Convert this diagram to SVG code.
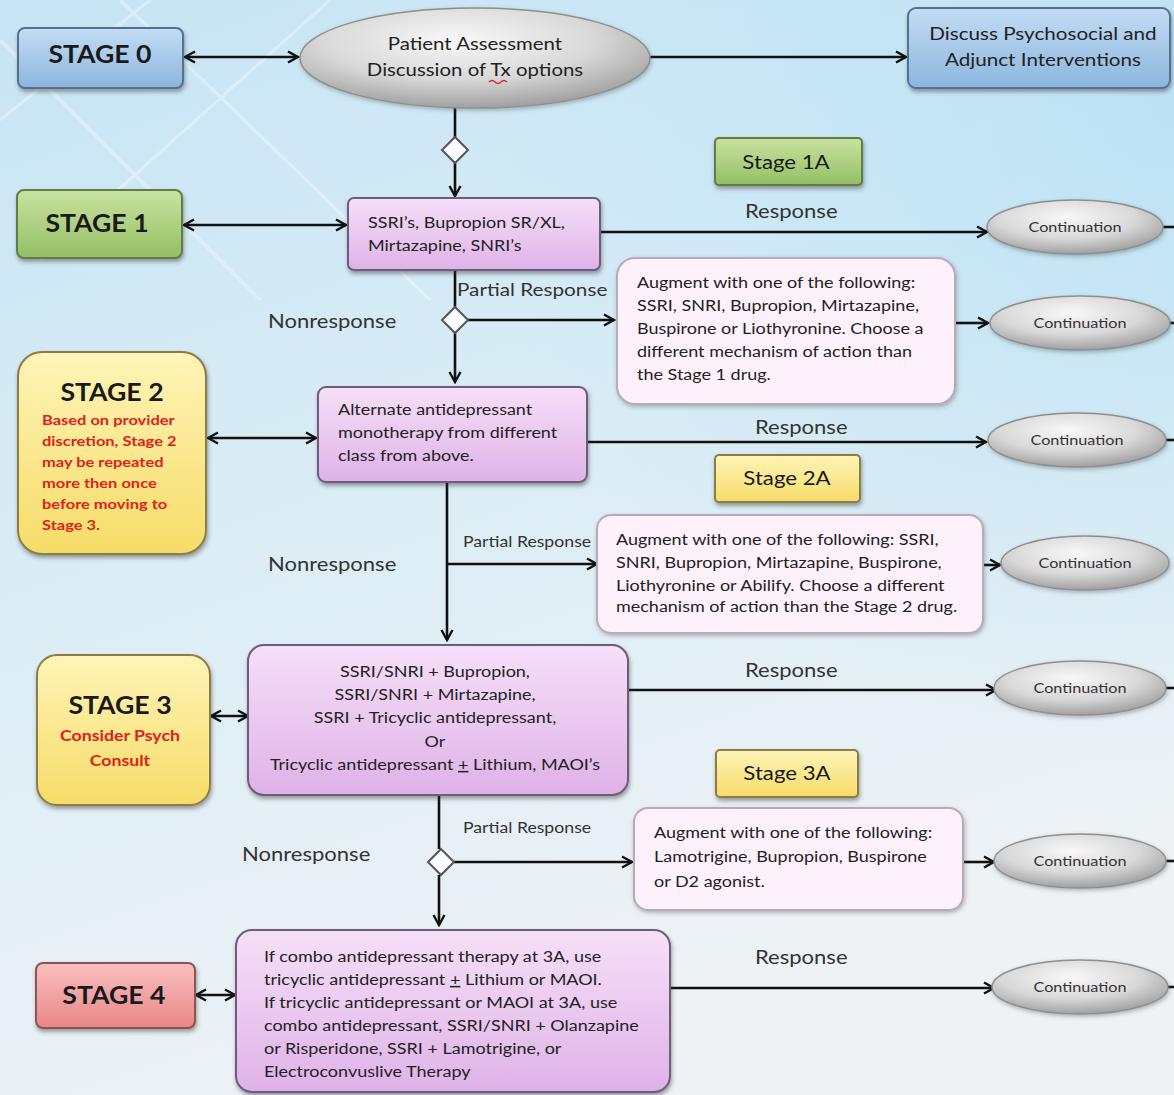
<svg xmlns="http://www.w3.org/2000/svg" width="1174" height="1095" viewBox="0 0 1174 1095">
<defs>
  <linearGradient id="bg" x1="0" y1="0" x2="0.35" y2="1">
    <stop offset="0" stop-color="#c6e4f4"/>
    <stop offset="0.5" stop-color="#dbedf6"/>
    <stop offset="1" stop-color="#eef2f5"/>
  </linearGradient>
  <radialGradient id="bgR" cx="1" cy="0.1" r="0.6">
    <stop offset="0" stop-color="#b6e0f4" stop-opacity="0.8"/>
    <stop offset="1" stop-color="#b6e0f4" stop-opacity="0"/>
  </radialGradient>
  <linearGradient id="gPurple" x1="0" y1="0" x2="0" y2="1">
    <stop offset="0" stop-color="#f6e0f8"/>
    <stop offset="1" stop-color="#dfb2e8"/>
  </linearGradient>
  <linearGradient id="gBlue" x1="0" y1="0" x2="0" y2="1">
    <stop offset="0" stop-color="#c3dcf3"/>
    <stop offset="1" stop-color="#8cb6df"/>
  </linearGradient>
  <linearGradient id="gGreen" x1="0" y1="0" x2="0" y2="1">
    <stop offset="0" stop-color="#c9e3a0"/>
    <stop offset="1" stop-color="#93bf64"/>
  </linearGradient>
  <linearGradient id="gYellow" x1="0" y1="0" x2="0" y2="1">
    <stop offset="0" stop-color="#fff4b8"/>
    <stop offset="1" stop-color="#f6dc68"/>
  </linearGradient>
  <linearGradient id="gRed" x1="0" y1="0" x2="0" y2="1">
    <stop offset="0" stop-color="#f9c0c0"/>
    <stop offset="1" stop-color="#ea8585"/>
  </linearGradient>
  <radialGradient id="gGray" cx="0.45" cy="0.32" r="0.72">
    <stop offset="0" stop-color="#f8f8f8"/>
    <stop offset="0.55" stop-color="#d8d8d8"/>
    <stop offset="1" stop-color="#999"/>
  </radialGradient>
  <filter id="sh" x="-10%" y="-10%" width="130%" height="140%">
    <feDropShadow dx="1" dy="3" stdDeviation="2" flood-color="#333" flood-opacity="0.45"/>
  </filter>
  <filter id="shl" x="-10%" y="-10%" width="130%" height="140%">
    <feDropShadow dx="1" dy="2" stdDeviation="2" flood-color="#555" flood-opacity="0.4"/>
  </filter>
  <marker id="ah" viewBox="0 0 14 14" refX="12" refY="7" markerWidth="14" markerHeight="14" markerUnits="userSpaceOnUse" orient="auto-start-reverse">
    <path d="M2,1.5 L12,7 L2,12.5" fill="none" stroke="#111" stroke-width="2.4" stroke-linejoin="miter"/>
  </marker>
  <style>
    text { font-family: Lato, "Liberation Sans", sans-serif; fill: #222; transform-box: fill-box; }
    .L { transform-origin: left center; }
    .C { transform-origin: center; }
    .stg { font-size: 24px; font-weight: bold; text-anchor: middle; fill: #1a1a1a; transform: scaleX(1.11); }
    .sub { font-size: 19px; text-anchor: middle; fill: #1a1a1a; transform: scaleX(1.17); }
    .lbl { font-size: 19px; fill: #333; transform: scaleX(1.16); }
    .plbl { font-size: 14.5px; fill: #333; transform: scaleX(1.22); }
    .cont { font-size: 13.5px; text-anchor: middle; fill: #333; transform: scaleX(1.2); }
    .box { font-size: 15px; fill: #222; transform: scaleX(1.2); }
    .ell2 { font-size: 17px; text-anchor: middle; transform: scaleX(1.2); }
    .disc { font-size: 17.5px; text-anchor: middle; transform: scaleX(1.18); }
    .red { font-size: 13.5px; font-weight: bold; fill: #e0201a; transform: scaleX(1.22); }
    .purple { fill: url(#gPurple); stroke: #6e5c7a; stroke-width: 2; filter: url(#sh); }
    .blue { fill: url(#gBlue); stroke: #56718f; stroke-width: 2; filter: url(#sh); }
    .green { fill: url(#gGreen); stroke: #5f7d44; stroke-width: 2; filter: url(#sh); }
    .yellow { fill: url(#gYellow); stroke: #8c7c45; stroke-width: 2; filter: url(#sh); }
    .redbox { fill: url(#gRed); stroke: #8a5555; stroke-width: 2; filter: url(#sh); }
    .aug { fill: #fdf2fc; stroke: #b9aab9; stroke-width: 2; filter: url(#shl); }
    .ell { fill: url(#gGray); stroke: #8f8f8f; stroke-width: 1.5; filter: url(#shl); }
    .ln { fill: none; stroke: #111; stroke-width: 2.6; }
    .ar { fill: none; stroke: #111; stroke-width: 2.6; marker-end: url(#ah); }
    .dar { fill: none; stroke: #111; stroke-width: 2.6; marker-end: url(#ah); marker-start: url(#ah); }
    .dia { fill: #fff; stroke: #555; stroke-width: 2; }
  </style>
</defs>

<rect x="0" y="0" width="1174" height="1095" fill="url(#bg)"/>
<rect x="0" y="0" width="1174" height="1095" fill="url(#bgR)"/>
<g opacity="0.35" stroke="#ffffff" stroke-width="3" fill="none">
  <path d="M0,120 L150,0"/>
  <path d="M40,260 L330,0"/>
  <path d="M0,40 L260,300"/>
  <path d="M120,0 L430,300"/>
</g>

<g id="connectors">
  <line class="dar" x1="185" y1="57" x2="298" y2="57"/>
  <line class="ar" x1="650" y1="57" x2="906" y2="57"/>
  <line class="ln" x1="455" y1="108" x2="455" y2="137"/>
  <line class="ar" x1="455" y1="163" x2="455" y2="196"/>
  <line class="dar" x1="184" y1="225" x2="346" y2="225"/>
  <line class="ar" x1="601" y1="232" x2="987" y2="232"/>
  <line class="ln" x1="1163" y1="227" x2="1174" y2="227"/>
  <line class="ln" x1="455" y1="271" x2="455" y2="307"/>
  <line class="ar" x1="468" y1="320" x2="614" y2="320"/>
  <line class="ar" x1="455" y1="333" x2="455" y2="382"/>
  <line class="ar" x1="956" y1="323" x2="988" y2="323"/>
  <line class="ln" x1="1170" y1="323" x2="1174" y2="323"/>
  <line class="dar" x1="208" y1="438" x2="316" y2="438"/>
  <line class="ar" x1="588" y1="442" x2="986" y2="442"/>
  <line class="ln" x1="1166" y1="440" x2="1174" y2="440"/>
  <line class="ar" x1="447" y1="483" x2="447" y2="640"/>
  <line class="ar" x1="447" y1="564" x2="597" y2="564"/>
  <line class="ar" x1="984" y1="565" x2="1000" y2="565"/>
  <line class="dar" x1="211" y1="716" x2="248" y2="716"/>
  <line class="ar" x1="629" y1="690" x2="996" y2="690"/>
  <line class="ln" x1="1166" y1="688" x2="1174" y2="688"/>
  <line class="ln" x1="439" y1="796" x2="439" y2="849"/>
  <line class="ar" x1="454" y1="862" x2="632" y2="862"/>
  <line class="ar" x1="439" y1="875" x2="439" y2="925"/>
  <line class="ar" x1="964" y1="862" x2="994" y2="862"/>
  <line class="ln" x1="1166" y1="861" x2="1174" y2="861"/>
  <line class="dar" x1="196" y1="995" x2="235" y2="995"/>
  <line class="ar" x1="671" y1="988" x2="994" y2="988"/>
  <line class="ln" x1="1168" y1="987" x2="1174" y2="987"/>
  <path class="dia" d="M455,137 L468,150 L455,163 L442,150 Z"/>
  <path class="dia" d="M455,307 L468,320 L455,333 L442,320 Z"/>
  <path class="dia" d="M441,849 L454,862 L441,875 L428,862 Z"/>
  <text class="lbl L" x="745" y="218">Response</text>
  <text class="plbl L" x="457" y="296" style="font-size:17px">Partial Response</text>
  <text class="lbl L" x="268" y="328">Nonresponse</text>
  <text class="lbl L" x="755" y="434">Response</text>
  <text class="plbl L" x="463" y="547">Partial Response</text>
  <text class="lbl L" x="268" y="571">Nonresponse</text>
  <text class="lbl L" x="745" y="677">Response</text>
  <text class="plbl L" x="463" y="833">Partial Response</text>
  <text class="lbl L" x="242" y="861">Nonresponse</text>
  <text class="lbl L" x="755" y="964">Response</text>
</g>

<g id="stage0">
  <rect class="blue" x="18" y="28" width="165" height="60" rx="7"/>
  <text class="stg C" x="100" y="63">STAGE 0</text>
</g>
<g id="assessment">
  <ellipse class="ell" cx="475" cy="58" rx="175" ry="50"/>
  <text class="ell2 C" x="475" y="50">Patient Assessment</text>
  <text class="ell2 C" x="475" y="76">Discussion of Tx options</text>
  <path d="M489,82 q3,-3 6,0 t6,0 t6,0" fill="none" stroke="#d22" stroke-width="1.2"/>
</g>
<g id="psychosocial">
  <rect class="blue" x="908" y="8" width="262" height="80" rx="8"/>
  <text class="disc C" x="1043" y="40">Discuss Psychosocial and</text>
  <text class="disc C" x="1043" y="66">Adjunct Interventions</text>
</g>
<g id="stage1a">
  <rect class="green" x="715" y="138" width="147" height="47" rx="4"/>
  <text class="sub C" x="786" y="169">Stage 1A</text>
</g>
<g id="stage1">
  <rect class="green" x="17" y="190" width="165" height="68" rx="7"/>
  <text class="stg C" x="97" y="232">STAGE 1</text>
</g>
<g id="stage1tx">
  <rect class="purple" x="348" y="198" width="252" height="72" rx="6"/>
  <text class="box L" x="368" y="228">SSRI’s, Bupropion SR/XL,</text>
  <text class="box L" x="368" y="251">Mirtazapine, SNRI’s</text>
</g>
<g id="cont1">
  <ellipse class="ell" cx="1075" cy="227" rx="88" ry="27"/>
  <text class="cont C" x="1075" y="232">Continuation</text>
</g>
<g id="augment1">
  <rect class="aug" x="617" y="258" width="338" height="146" rx="18"/>
  <text class="box L" x="637" y="288">Augment with one of the following:</text>
  <text class="box L" x="637" y="311">SSRI, SNRI, Bupropion, Mirtazapine,</text>
  <text class="box L" x="637" y="334">Buspirone or Liothyronine.  Choose a</text>
  <text class="box L" x="637" y="357">different mechanism of action than</text>
  <text class="box L" x="637" y="380">the Stage 1 drug.</text>
</g>
<g id="cont2">
  <ellipse class="ell" cx="1080" cy="323" rx="90" ry="27"/>
  <text class="cont C" x="1080" y="328">Continuation</text>
</g>
<g id="stage2">
  <rect class="yellow" x="18" y="352" width="188" height="202" rx="24"/>
  <text class="stg C" x="112" y="401">STAGE 2</text>
  <text class="red L" x="42" y="425">Based on provider</text>
  <text class="red L" x="42" y="446">discretion, Stage 2</text>
  <text class="red L" x="42" y="467">may be repeated</text>
  <text class="red L" x="42" y="488">more then once</text>
  <text class="red L" x="42" y="509">before moving to</text>
  <text class="red L" x="42" y="530">Stage 3.</text>
</g>
<g id="stage2tx">
  <rect class="purple" x="318" y="387" width="269" height="95" rx="8"/>
  <text class="box L" x="338" y="415">Alternate antidepressant</text>
  <text class="box L" x="338" y="438">monotherapy from different</text>
  <text class="box L" x="338" y="461">class from above.</text>
</g>
<g id="cont3">
  <ellipse class="ell" cx="1077" cy="440" rx="89" ry="27"/>
  <text class="cont C" x="1077" y="445">Continuation</text>
</g>
<g id="stage2a">
  <rect class="yellow" x="715" y="455" width="145" height="47" rx="4"/>
  <text class="sub C" x="787" y="485">Stage 2A</text>
</g>
<g id="augment2">
  <rect class="aug" x="597" y="515" width="386" height="118" rx="14"/>
  <text class="box L" x="616" y="545">Augment with one of the following: SSRI,</text>
  <text class="box L" x="616" y="568">SNRI, Bupropion, Mirtazapine, Buspirone,</text>
  <text class="box L" x="616" y="591">Liothyronine or Abilify.  Choose a different</text>
  <text class="box L" x="616" y="612">mechanism of action than the Stage 2 drug.</text>
</g>
<g id="cont4">
  <ellipse class="ell" cx="1085" cy="563" rx="84" ry="27"/>
  <text class="cont C" x="1085" y="568">Continuation</text>
</g>
<g id="stage3">
  <rect class="yellow" x="37" y="655" width="173" height="150" rx="20"/>
  <text class="stg C" x="120" y="714">STAGE 3</text>
  <text class="red C" x="120" y="741" text-anchor="middle" style="font-size:15px;transform:scaleX(1.18)">Consider Psych</text>
  <text class="red C" x="120" y="766" text-anchor="middle" style="font-size:15px;transform:scaleX(1.18)">Consult</text>
</g>
<g id="stage3tx">
  <rect class="purple" x="248" y="645" width="380" height="150" rx="16"/>
  <text class="box C" x="435" y="677" text-anchor="middle">SSRI/SNRI + Bupropion,</text>
  <text class="box C" x="435" y="700" text-anchor="middle">SSRI/SNRI + Mirtazapine,</text>
  <text class="box C" x="435" y="723" text-anchor="middle">SSRI + Tricyclic antidepressant,</text>
  <text class="box C" x="435" y="747" text-anchor="middle">Or</text>
  <text class="box C" x="435" y="770" text-anchor="middle">Tricyclic antidepressant <tspan text-decoration="underline">+</tspan> Lithium, MAOI’s</text>
</g>
<g id="cont5">
  <ellipse class="ell" cx="1080" cy="688" rx="86" ry="27"/>
  <text class="cont C" x="1080" y="693">Continuation</text>
</g>
<g id="stage3a">
  <rect class="yellow" x="716" y="750" width="142" height="47" rx="4"/>
  <text class="sub C" x="787" y="780">Stage 3A</text>
</g>
<g id="augment3">
  <rect class="aug" x="634" y="808" width="329" height="102" rx="14"/>
  <text class="box L" x="654" y="838">Augment with one of the following:</text>
  <text class="box L" x="654" y="862">Lamotrigine, Bupropion, Buspirone</text>
  <text class="box L" x="654" y="887">or D2 agonist.</text>
</g>
<g id="cont6">
  <ellipse class="ell" cx="1080" cy="861" rx="86" ry="27"/>
  <text class="cont C" x="1080" y="866">Continuation</text>
</g>
<g id="stage4">
  <rect class="redbox" x="36" y="963" width="159" height="65" rx="7"/>
  <text class="stg C" x="114" y="1004">STAGE 4</text>
</g>
<g id="stage4tx">
  <rect class="purple" x="236" y="930" width="434" height="162" rx="16"/>
  <text class="box L" x="264" y="962">If combo antidepressant therapy at 3A, use</text>
  <text class="box L" x="264" y="985">tricyclic antidepressant <tspan text-decoration="underline">+</tspan> Lithium or MAOI.</text>
  <text class="box L" x="264" y="1008">If tricyclic antidepressant or MAOI at 3A, use</text>
  <text class="box L" x="264" y="1031">combo antidepressant, SSRI/SNRI + Olanzapine</text>
  <text class="box L" x="264" y="1054">or Risperidone, SSRI + Lamotrigine, or</text>
  <text class="box L" x="264" y="1077">Electroconvuslive Therapy</text>
</g>
<g id="cont7">
  <ellipse class="ell" cx="1080" cy="987" rx="88" ry="27"/>
  <text class="cont C" x="1080" y="992">Continuation</text>
</g>
</svg>
